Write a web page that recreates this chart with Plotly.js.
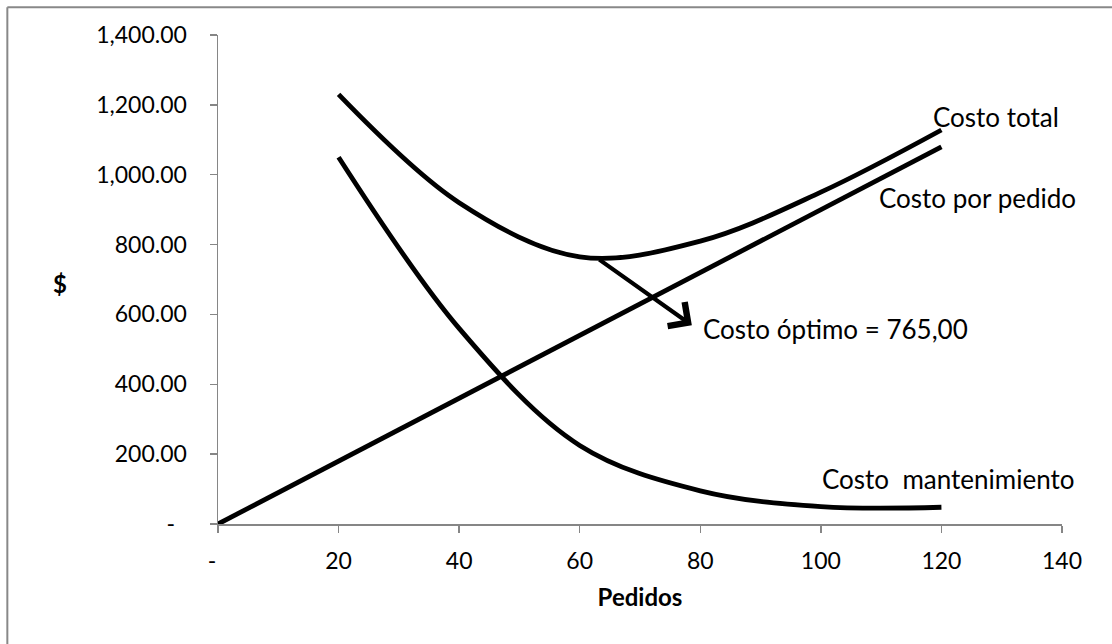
<!DOCTYPE html>
<html>
<head>
<meta charset="utf-8">
<script src="https://cdn.plot.ly/plotly-3.0.1.min.js"></script>
<style>html,body{margin:0;padding:0;background:#fff;}#chart{width:1112px;height:644px;}</style>
</head>
<body>
<div id="chart"></div>
<script>
// Data
const pedidosLinea = [0, 20, 40, 60, 80, 100, 120];
const costoPorPedido = [0, 180, 360, 540, 720, 900, 1080];
const pedidosCurvas = [20, 40, 60, 80, 100, 120];
const costoMantenimiento = [1050, 560, 225, 95, 50, 48];
const costoTotal = [1230, 920, 765, 810, 950, 1128];

const xTickVals = [0, 20, 40, 60, 80, 100, 120, 140];
const xTickText = ["-\u00a0\u00a0", "20", "40", "60", "80", "100", "120", "140"];
const yTickVals = [0, 200, 400, 600, 800, 1000, 1200, 1400];
const yTickText = ["-\u00a0\u00a0", "200.00", "400.00", "600.00", "800.00", "1,000.00", "1,200.00", "1,400.00"];

const optimoPunto = {x: 63, y: 760};
const optimoFlecha = {x: 78.6, y: 569};
const optimoTexto = "Costo óptimo = 765,00";

const FONT = "Lato, 'Open Sans', sans-serif";
const lineStyle = {color: "#000000", width: 4.8, shape: "spline", smoothing: 1};

const traces = [
  {x: pedidosLinea, y: costoPorPedido, mode: "lines", name: "Costo por pedido", line: {color: "#000", width: 4.8}},
  {x: pedidosCurvas, y: costoMantenimiento, mode: "lines", name: "Costo mantenimiento", line: lineStyle},
  {x: pedidosCurvas, y: costoTotal, mode: "lines", name: "Costo total", line: lineStyle}
];

const axisColor = "#868686";
const layout = {
  width: 1112, height: 644,
  margin: {l: 218, r: 50, t: 34.5, b: 119.7, pad: 0},
  paper_bgcolor: "#ffffff", plot_bgcolor: "#ffffff",
  showlegend: false,
  font: {family: FONT, color: "#000"},
  xaxis: {
    range: [0, 140], tickmode: "array", tickvals: xTickVals, ticktext: xTickText,
    showgrid: false, zeroline: false, showline: true, linecolor: axisColor, linewidth: 1.5,
    ticks: "outside", ticklen: 7, tickcolor: axisColor, tickwidth: 1.5,
    tickfont: {family: FONT, size: 23, color: "#000"},
    ticklabelstandoff: 9,
    title: {text: "<b>Pedidos</b>", font: {family: FONT, size: 24, color: "#000"}, standoff: 16},
    fixedrange: true
  },
  yaxis: {
    range: [0, 1400], tickmode: "array", tickvals: yTickVals, ticktext: yTickText,
    showgrid: false, zeroline: false, showline: true, linecolor: axisColor, linewidth: 1.5,
    ticks: "outside", ticklen: 7, tickcolor: axisColor, tickwidth: 1.5,
    tickfont: {family: FONT, size: 23, color: "#000"},
    ticklabelstandoff: 18,
    fixedrange: true
  },
  shapes: [
    {type: "line", xref: "paper", yref: "paper", x0: -0.2496, x1: 1.2, y0: 1.0568, y1: 1.0568, line: {color: "#888888", width: 2}},
    {type: "line", xref: "paper", yref: "paper", x0: -0.2496, x1: -0.2496, y0: 1.0568, y1: -0.4, line: {color: "#888888", width: 2}}
  ],
  annotations: [
    {xref: "x", yref: "y", x: optimoFlecha.x, y: optimoFlecha.y, axref: "x", ayref: "y", ax: optimoPunto.x, ay: optimoPunto.y,
     text: "", showarrow: true, arrowhead: 4, arrowsize: 1.35, arrowwidth: 4.2, arrowcolor: "#000", standoff: 0, startstandoff: 0},
    {xref: "x", yref: "y", x: 80.2, y: 557, xanchor: "left", yanchor: "middle", text: optimoTexto, showarrow: false,
     font: {family: FONT, size: 26, color: "#000"}},
    {xref: "x", yref: "y", x: 118.2, y: 1165, xanchor: "left", yanchor: "middle", text: "Costo total", showarrow: false,
     font: {family: FONT, size: 26, color: "#000"}},
    {xref: "x", yref: "y", x: 109.3, y: 932, xanchor: "left", yanchor: "middle", text: "Costo por pedido", showarrow: false,
     font: {family: FONT, size: 26, color: "#000"}},
    {xref: "x", yref: "y", x: 99.85, y: 128.6, xanchor: "left", yanchor: "middle", text: "Costo\u00a0 mantenimiento", showarrow: false,
     font: {family: FONT, size: 26, color: "#000"}},
    {xref: "paper", yref: "paper", x: (60 - 218) / 844, y: (524.3 - 283) / 489.8, xanchor: "center", yanchor: "middle",
     text: "<b>$</b>", showarrow: false, font: {family: FONT, size: 24, color: "#000"}}
  ]
};

Plotly.newPlot("chart", traces, layout, {displayModeBar: false, staticPlot: true});
</script>
</body>
</html>
